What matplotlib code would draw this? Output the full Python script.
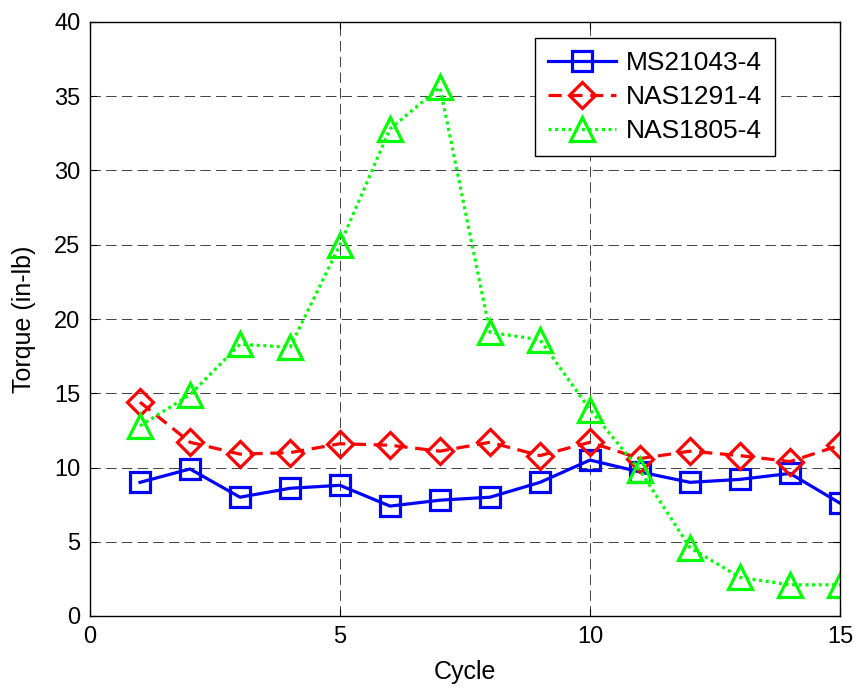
import matplotlib
matplotlib.use("Agg")
import matplotlib.pyplot as plt

plt.rcParams['font.family'] = ['Liberation Sans', 'DejaVu Sans']
plt.rcParams['lines.scale_dashes'] = False

cycles = list(range(1, 16))
ms21043 = [9.0, 9.9, 8.0, 8.6, 8.8, 7.4, 7.8, 8.0, 9.0, 10.5, 9.7, 9.0, 9.2, 9.6, 7.6]
nas1291 = [14.4, 11.7, 10.9, 11.0, 11.6, 11.5, 11.1, 11.7, 10.8, 11.7, 10.6, 11.1, 10.8, 10.4, 11.5]
nas1805 = [12.8, 14.9, 18.3, 18.1, 25.0, 32.8, 35.6, 19.1, 18.6, 13.9, 9.8, 4.6, 2.6, 2.1, 2.1]

fig = plt.figure(figsize=(8.6, 6.9), dpi=100)
ax = fig.add_axes([90/860, 1 - 616/690, 750/860, 594/690])

ax.plot(cycles, ms21043, '-', color=(0, 0, 1), lw=2.3, marker='s', ms=14,
        mfc='none', mew=2.3, label='MS21043-4')
ax.plot(cycles, nas1291, '--', color=(1, 0, 0), lw=2.3, marker='D', ms=13,
        mfc='none', mew=2.3, label='NAS1291-4', dashes=(9.5, 5.5))
ax.plot(cycles, nas1805, ':', color=(0, 1, 0), lw=2.3, marker='^', ms=17,
        mfc='none', mew=2.3, label='NAS1805-4', dashes=(2.2, 2.6))

ax.set_xlim(0, 15)
ax.set_ylim(0, 40)
ax.set_xticks([0, 5, 10, 15])
ax.set_yticks(range(0, 41, 5))
ax.grid(True, color='0.25', linestyle=(0, (7.5, 3.8)), linewidth=0.7)
ax.tick_params(direction='in', length=5, labelsize=17, top=True, right=True, pad=7)
for s in ax.spines.values():
    s.set_linewidth(1.0)
ax.set_xlabel('Cycle', fontsize=18, labelpad=9)
ax.set_ylabel('Torque (in-lb)', fontsize=18, labelpad=13)

leg = ax.legend(loc='upper right', fontsize=19, fancybox=False, framealpha=1,
                edgecolor='black', borderaxespad=0, handlelength=2.6,
                handletextpad=0.35, labelspacing=0.38, borderpad=0.5,
                bbox_to_anchor=((775 - 90) / 750, (616 - 38) / 594))
leg.get_frame().set_linewidth(1.0)

fig.savefig('out.png', dpi=100)
